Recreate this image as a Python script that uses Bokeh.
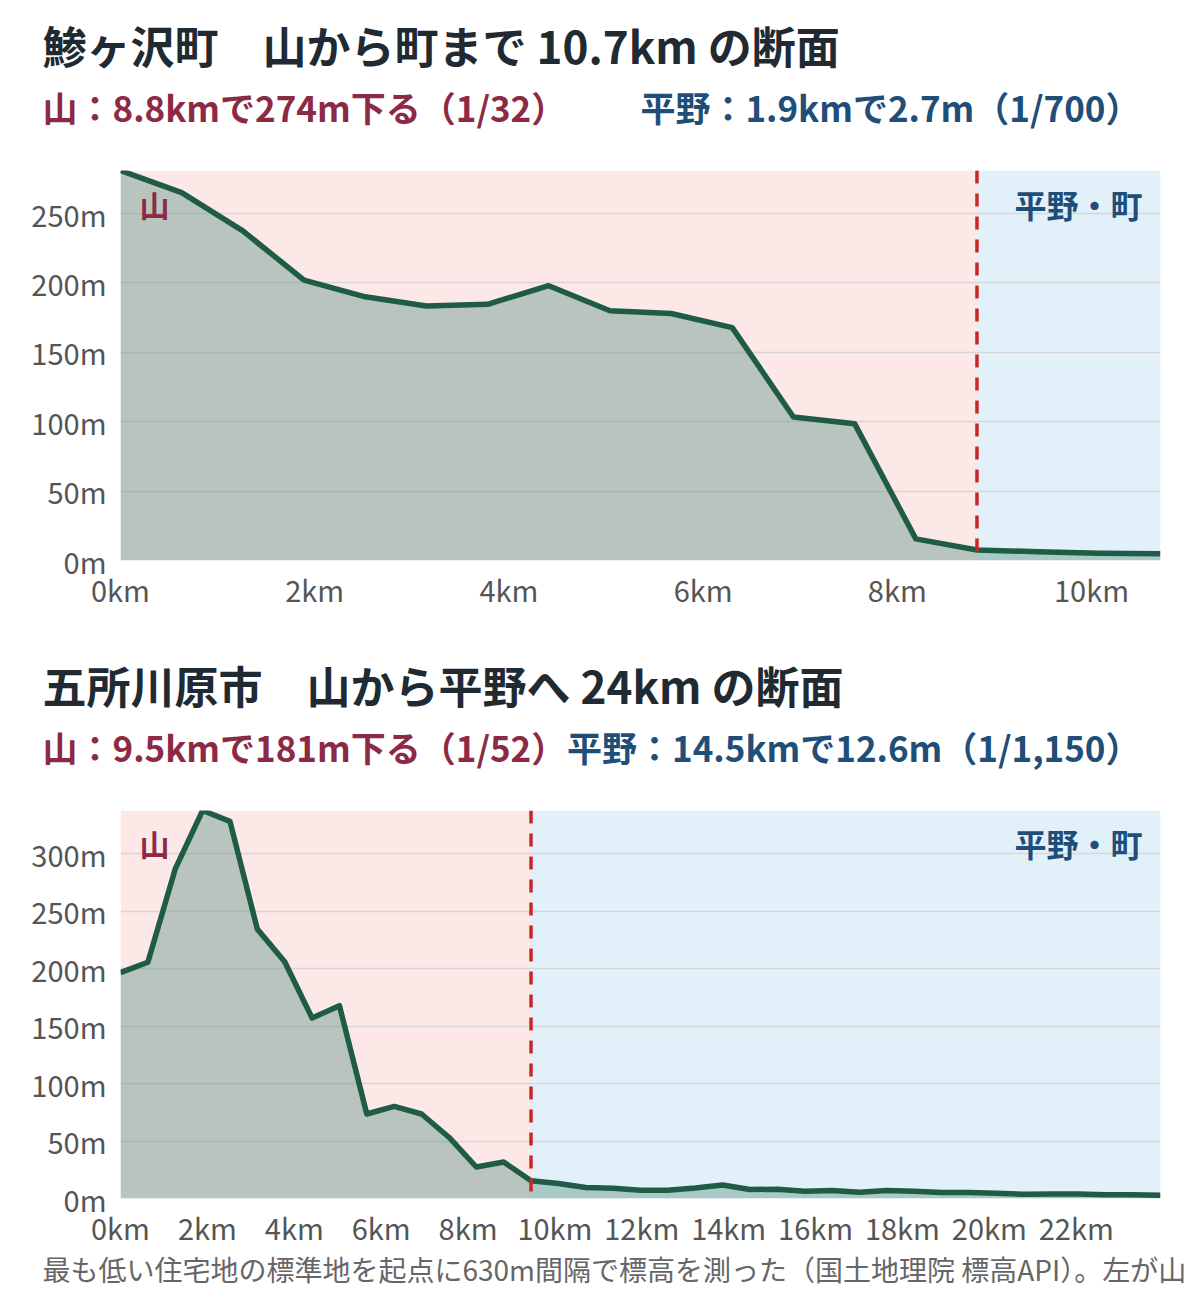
from bokeh.plotting import figure
from bokeh.models import Range1d, FixedTicker, PrintfTickFormatter, Span, Label
from bokeh.layouts import column
from bokeh.embed import file_html
from bokeh.resources import INLINE
from bokeh.core.properties import value

FONT = "Noto Sans CJK JP"
W = 1200
BL, BR = 120, 40  # chart borders: frame spans page x 120..1160

# ---------------- data ----------------
title1 = "鯵ヶ沢町　山から町まで 10.7km の断面"
sub1_mtn = "山：8.8kmで274m下る（1/32）"
sub1_plain = "平野：1.9kmで2.7m（1/700）"
dist1 = [0.00, 0.63, 1.26, 1.89, 2.52, 3.15, 3.78, 4.41, 5.04, 5.67,
         6.30, 6.93, 7.56, 8.19, 8.82, 9.45, 10.08, 10.71]
elev1 = [281, 265, 237.5, 202, 190, 183.4, 184.6, 198, 180, 178,
         167.8, 103.4, 98.6, 15.6, 7.6, 6.3, 5.3, 4.9]
boundary1 = 8.82
xticks1 = [0, 2, 4, 6, 8, 10]
yticks1 = [0, 50, 100, 150, 200, 250]

title2 = "五所川原市　山から平野へ 24km の断面"
sub2_mtn = "山：9.5kmで181m下る（1/52）"
sub2_plain = "平野：14.5kmで12.6m（1/1,150）"
dist2 = [0.00, 0.63, 1.26, 1.89, 2.52, 3.15, 3.78, 4.41, 5.04, 5.67,
         6.30, 6.93, 7.56, 8.19, 8.82, 9.45, 10.08, 10.71, 11.34, 11.97,
         12.60, 13.23, 13.86, 14.49, 15.12, 15.75, 16.38, 17.01, 17.64, 18.27,
         18.90, 19.53, 20.16, 20.79, 21.42, 22.05, 22.68, 23.31, 23.94]
elev2 = [196.5, 205.5, 286.7, 337.5, 328, 234.3, 206, 157, 167.7, 73.5,
         80.1, 73.5, 53.3, 27.4, 31.7, 15.5, 13.0, 9.5, 8.9, 7.2,
         7.2, 9.2, 11.8, 7.8, 8.1, 6.3, 6.9, 5.5, 6.9, 6.3,
         5.2, 5.2, 4.6, 3.7, 4.0, 4.0, 3.2, 3.2, 2.9]
boundary2 = 9.45
xticks2 = [0, 2, 4, 6, 8, 10, 12, 14, 16, 18, 20, 22]
yticks2 = [0, 50, 100, 150, 200, 250, 300]

label_mtn = "山"
label_plain = "平野・町"
footer_text = "最も低い住宅地の標準地を起点に630m間隔で標高を測った（国土地理院 標高API）。左が山"

# ---------------- styles ----------------
C_TITLE = "#1f2a33"
C_RED = "#8c2a45"
C_BLUE = "#1f4e79"
C_PINK = "#fde8e8"
C_SKY = "#e2f0fa"
C_LINE = "#1e5c46"
C_FILL = "#649989"
C_GRID = "#d6d6d6"
C_TICK = "#555555"
C_DASH = "#c62828"


def blank(top, bottom):
    # full-width frame in page-pixel coordinates: x = page x, y = page y (downwards)
    p = figure(width=W, height=bottom - top, x_range=Range1d(0, W),
               y_range=Range1d(bottom, top), output_backend="svg", toolbar_location=None,
               min_border=0, min_border_left=0, min_border_right=0,
               min_border_top=0, min_border_bottom=0,
               x_axis_location=None, y_axis_location=None, frame_align=False)
    p.grid.visible = False
    p.outline_line_color = None
    return p


def header(title, left, right, top, bottom, ty, sy):
    p = blank(top, bottom)
    p.add_layout(Label(x=42, y=ty, text=title, text_font=FONT, text_font_size="44px",
                       text_font_style="bold", text_color=C_TITLE,
                       text_baseline="middle", text_align="left"))
    p.add_layout(Label(x=42, y=sy, text=left, text_font=FONT, text_font_size="35px",
                       text_font_style="bold", text_color=C_RED,
                       text_baseline="middle", text_align="left"))
    p.add_layout(Label(x=1140, y=sy, text=right, text_font=FONT, text_font_size="35px",
                       text_font_style="bold", text_color=C_BLUE,
                       text_baseline="middle", text_align="right"))
    return p


def chart(dist, elev, boundary, xticks, yticks, height, bottom):
    xmax = dist[-1]
    ymax = max(elev)
    p = figure(width=W, height=height, x_range=Range1d(0, xmax), y_range=Range1d(0, ymax),
               output_backend="svg", toolbar_location=None,
               min_border_left=BL, min_border_right=BR, min_border_top=20,
               min_border_bottom=bottom, frame_align=False)
    p.outline_line_color = None
    r1 = p.quad(left=[0], right=[boundary], bottom=[0], top=[ymax], fill_color=C_PINK, line_color=None)
    r1.level = "image"
    r2 = p.quad(left=[boundary], right=[xmax], bottom=[0], top=[ymax], fill_color=C_SKY, line_color=None)
    r2.level = "image"
    p.varea(x=dist, y1=[0] * len(dist), y2=elev, fill_color=C_FILL, fill_alpha=0.45)
    p.line(x=dist, y=elev, line_color=C_LINE, line_width=5.5, line_join="round")
    p.add_layout(Span(location=boundary, dimension="height", line_color=C_DASH,
                      line_width=3.5, line_dash="13 10"))
    ly = ymax * (1 - 33 / 390)
    p.text(x=[0], y=[ly], text=[label_mtn], x_offset=19, text_font=value(FONT),
           text_font_size="30px", text_font_style="bold", text_color=C_RED,
           text_baseline="middle", text_align="left")
    p.text(x=[xmax], y=[ly], text=[label_plain], x_offset=-18, text_font=value(FONT),
           text_font_size="32px", text_font_style="bold", text_color=C_BLUE,
           text_baseline="middle", text_align="right")

    p.xgrid.visible = False
    p.ygrid.ticker = FixedTicker(ticks=yticks)
    p.ygrid.grid_line_color = C_GRID
    p.ygrid.grid_line_width = 1.5

    p.xaxis.ticker = FixedTicker(ticks=xticks)
    p.xaxis.formatter = PrintfTickFormatter(format="%dkm")
    p.yaxis.ticker = FixedTicker(ticks=yticks)
    p.yaxis.formatter = PrintfTickFormatter(format="%dm")
    for ax in (p.xaxis, p.yaxis):
        ax.axis_line_color = None
        ax.major_tick_line_color = None
        ax.minor_tick_line_color = None
        ax.major_tick_out = 0
        ax.major_tick_in = 0
        ax.major_label_text_font = FONT
        ax.major_label_text_font_size = "29px"
        ax.major_label_text_color = C_TICK
    p.xaxis.major_label_standoff = 7
    p.yaxis.major_label_standoff = 14
    return p


def footer(top, bottom):
    p = blank(top, bottom)
    p.add_layout(Label(x=42, y=1268, text=footer_text, text_font=FONT, text_font_size="28px",
                       text_color="#666666", text_baseline="middle", text_align="left"))
    return p


h1 = header(title1, sub1_mtn, sub1_plain, 0, 150, 44, 106)
c1 = chart(dist1, elev1, boundary1, xticks1, yticks1, 470, 60)
h2 = header(title2, sub2_mtn, sub2_plain, 620, 790, 684, 746)
c2 = chart(dist2, elev2, boundary2, xticks2, yticks2, 460, 50)
f = footer(1250, 1295)

layout = column(h1, c1, h2, c2, f, spacing=0)
open("out.html", "w").write(file_html(layout, INLINE))
